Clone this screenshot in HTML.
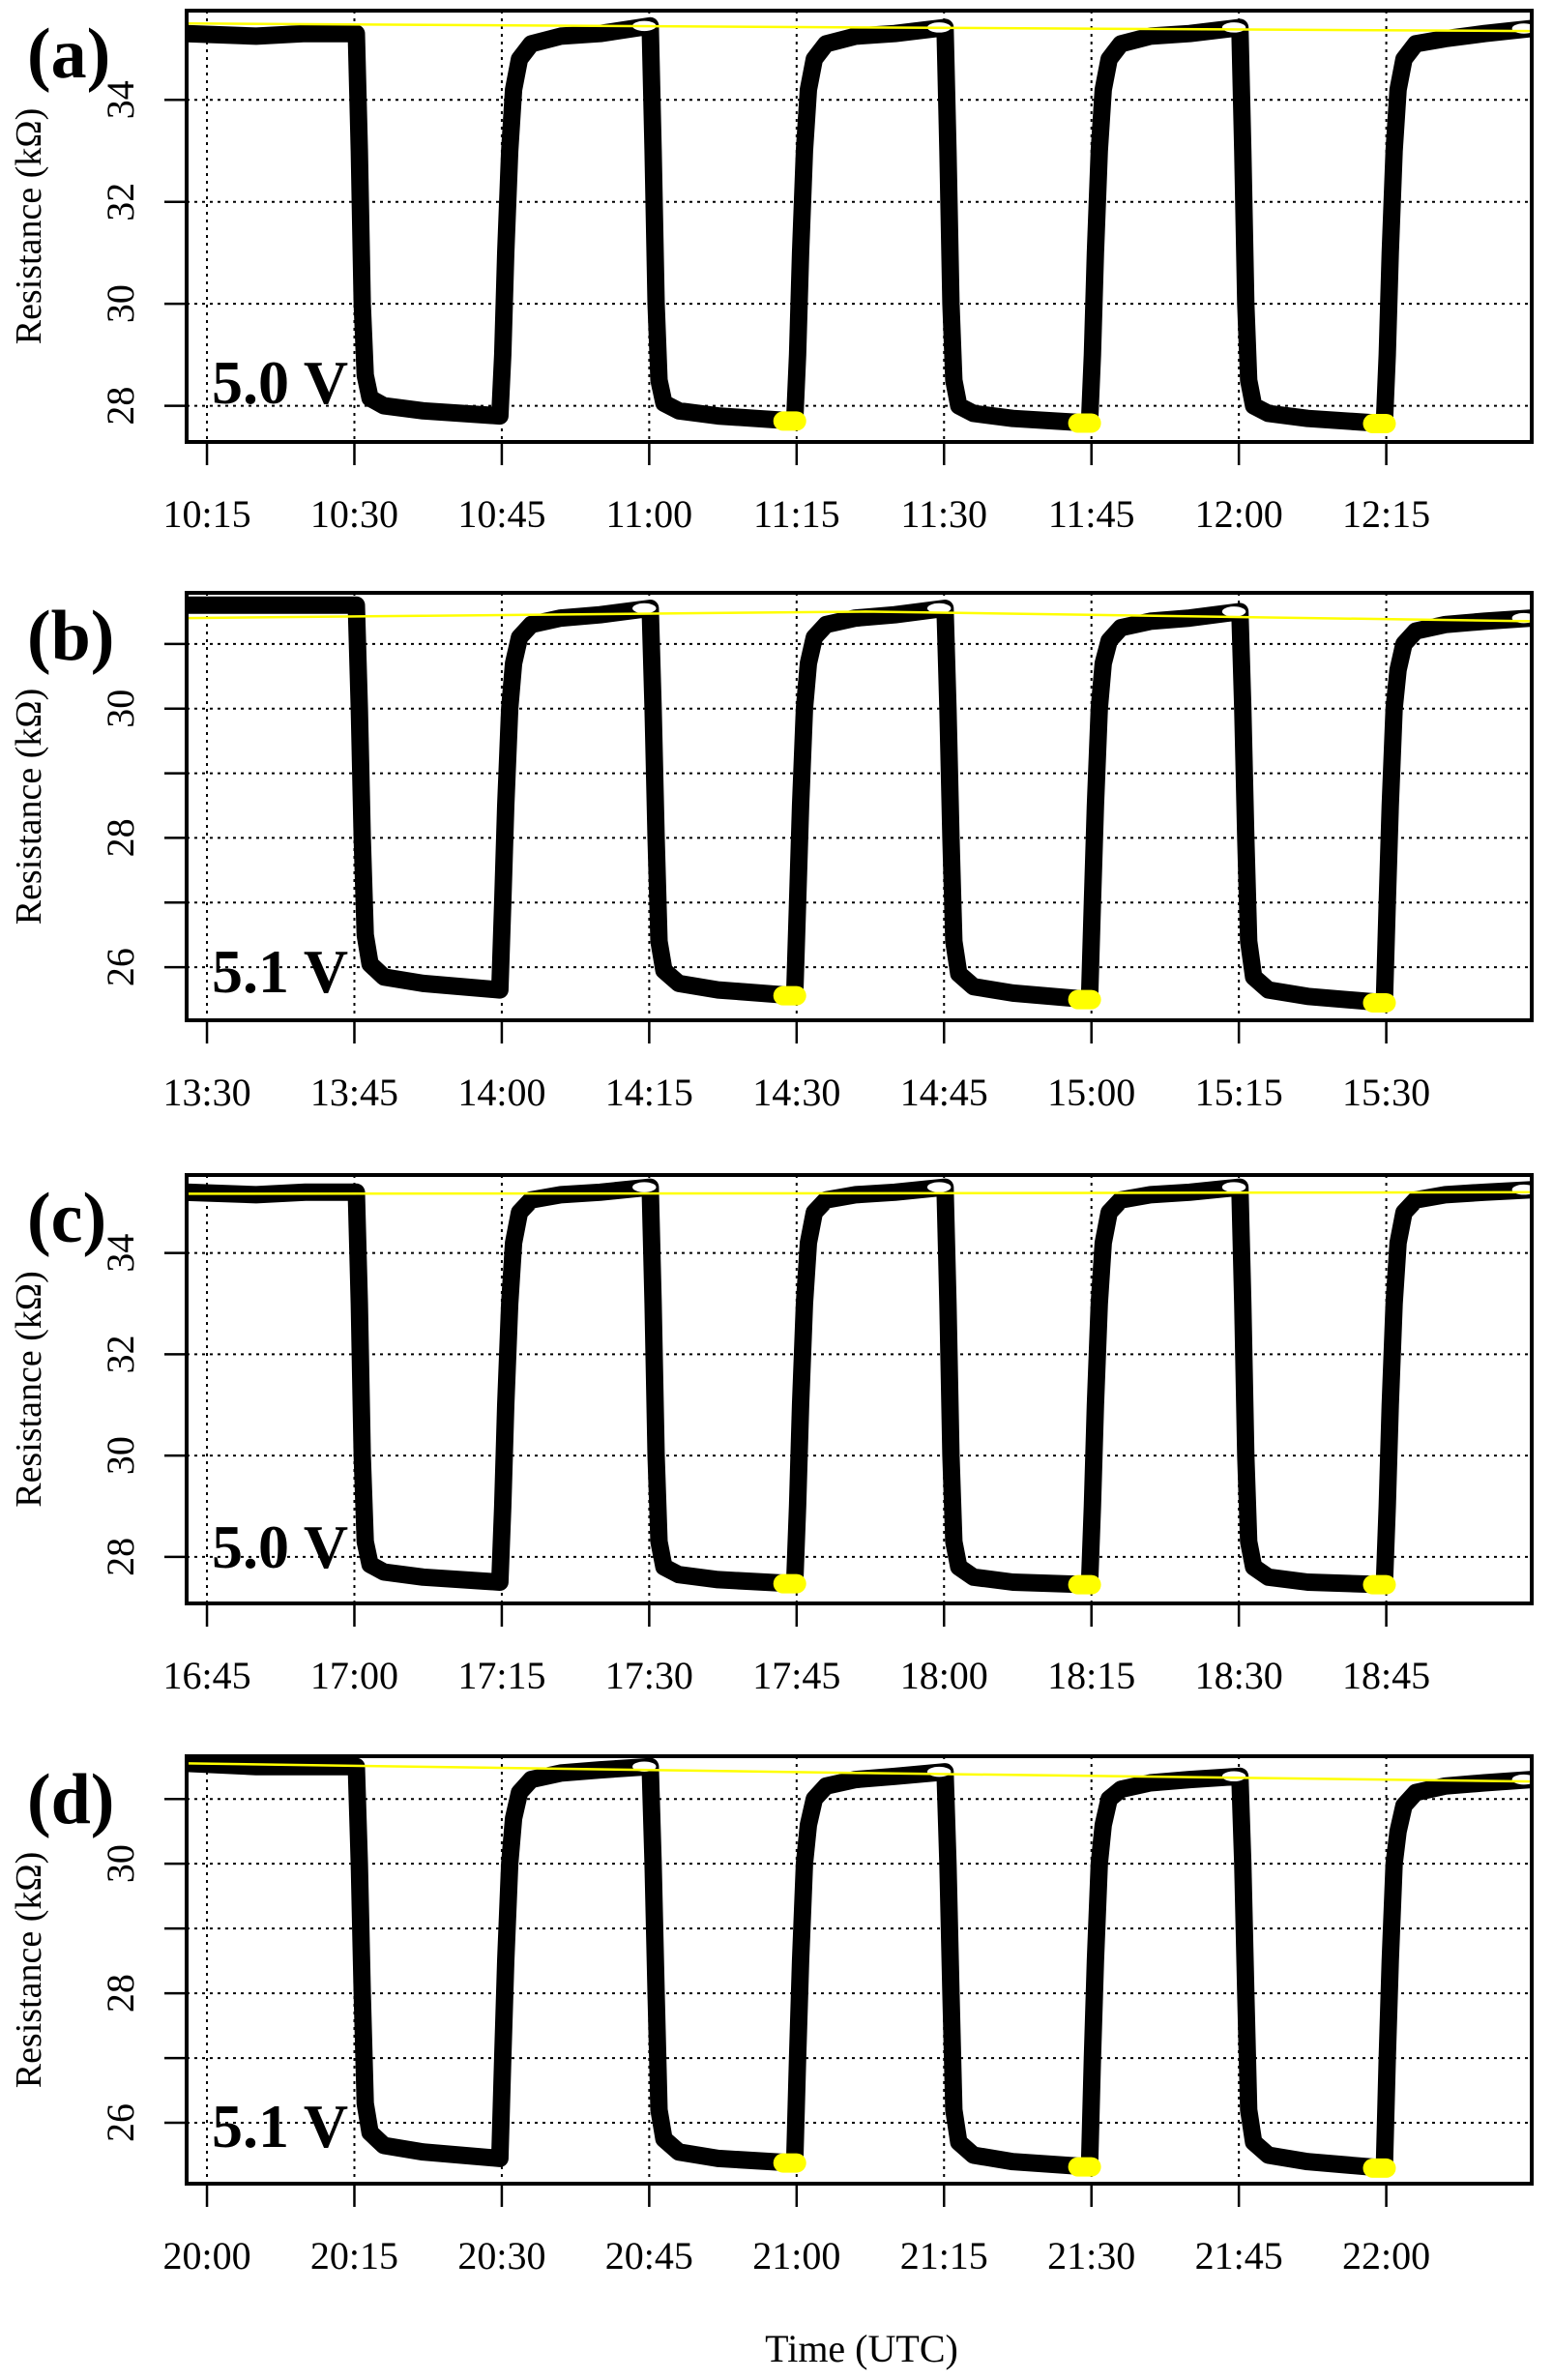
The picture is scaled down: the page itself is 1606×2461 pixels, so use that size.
<!DOCTYPE html>
<html><head><meta charset="utf-8"><style>
html,body{margin:0;padding:0;background:#fff}
svg{display:block}
text{font-family:"Liberation Serif","Times New Roman",serif;fill:#000}
</style></head><body>
<svg id="fig" width="1606" height="2461" viewBox="0 0 1606 2461" xmlns="http://www.w3.org/2000/svg">
<text x="891" y="2442" font-size="40" text-anchor="middle">Time (UTC)</text>
</svg>
<script>
// shared sample times (minutes after first labelled tick)
const sampleTimes = [-2.1,5,10,15.2,15.5,15.8,16.1,16.6,18,22,29.8,
30.1,30.4,30.8,31.2,31.8,33,36,40,45.1,
45.4,45.7,46.0,46.5,48,52,59.8,
60.1,60.4,60.8,61.2,61.8,63,66,70,75.1,
75.4,75.7,76.0,76.5,78,82,89.8,
90.1,90.4,90.8,91.2,91.8,93,96,100,105.1,
105.4,105.7,106.0,106.5,108,112,119.8,
120.1,120.4,120.8,121.2,121.8,123,126,130,134.8];
const valuesA = [35.3,35.25,35.3,35.3,33,30,28.6,28.15,28.0,27.9,27.8,
29,31,33,34.2,34.8,35.1,35.25,35.3,35.45,
33,30,28.5,28.05,27.9,27.8,27.7,
29,31,33,34.2,34.8,35.1,35.25,35.3,35.42,
33,30,28.5,28.0,27.85,27.75,27.66,
29,31,33,34.2,34.8,35.1,35.25,35.3,35.42,
33,30,28.5,28.0,27.85,27.75,27.65,
29,31,33,34.2,34.8,35.1,35.2,35.3,35.4];
const valuesB = [31.6,31.6,31.6,31.6,30,28,26.5,26.05,25.85,25.75,25.65,
27,28.5,30,30.7,31.1,31.3,31.4,31.45,31.55,
30,28,26.4,25.95,25.75,25.65,25.56,
27,28.5,30,30.7,31.1,31.3,31.4,31.45,31.55,
30,28,26.4,25.9,25.7,25.6,25.5,
27,28.5,30,30.7,31.05,31.25,31.35,31.4,31.5,
30,28,26.4,25.85,25.65,25.55,25.45,
27,28.5,30,30.6,31.0,31.2,31.3,31.35,31.4];
const valuesC = [35.2,35.15,35.2,35.2,33,30,28.3,27.85,27.7,27.6,27.5,
29,31,33,34.2,34.8,35.05,35.15,35.2,35.3,
33,30,28.3,27.8,27.65,27.55,27.47,
29,31,33,34.2,34.8,35.05,35.15,35.2,35.3,
33,30,28.3,27.8,27.6,27.5,27.45,
29,31,33,34.2,34.8,35.05,35.15,35.2,35.3,
33,30,28.3,27.8,27.6,27.5,27.45,
29,31,33,34.2,34.8,35.05,35.15,35.2,35.25];
const valuesD = [31.55,31.5,31.5,31.5,30,28,26.3,25.85,25.65,25.55,25.45,
27,28.5,30,30.7,31.1,31.3,31.4,31.45,31.5,
30,28,26.2,25.75,25.55,25.45,25.38,
27,28.5,30,30.6,31.0,31.2,31.3,31.35,31.42,
30,28,26.2,25.7,25.5,25.4,25.32,
27,28.5,30,30.6,31.0,31.15,31.25,31.3,31.35,
30,28,26.2,25.7,25.5,25.4,25.3,
27,28.5,30,30.5,30.9,31.1,31.2,31.25,31.3];
const fitTimes = [-2.1,67,134.8];
const fitA = [35.5,35.42,35.35];
const fitB = [31.4,31.5,31.35];
const fitC = [35.17,35.18,35.2];
const fitD = [31.55,31.4,31.27];
const yellowTimes = [59.4,89.4,119.4];
const yellowA = [27.7,27.66,27.65];
const yellowB = [25.56,25.5,25.45];
const yellowC = [27.47,27.45,27.45];
const yellowD = [25.38,25.32,25.3];
const whiteTimes = [44.5,74.5,104.5,134.0];
const whiteA = [35.45,35.42,35.42,35.4];
const whiteB = [31.55,31.55,31.5,31.4];
const whiteC = [35.3,35.3,35.3,35.25];
const whiteD = [31.5,31.42,31.35,31.3];
const tickMinutes = [0,15,30,45,60,75,90,105,120];
const labelsA = ["10:15","10:30","10:45","11:00","11:15","11:30","11:45","12:00","12:15"];
const labelsB = ["13:30","13:45","14:00","14:15","14:30","14:45","15:00","15:15","15:30"];
const labelsC = ["16:45","17:00","17:15","17:30","17:45","18:00","18:15","18:30","18:45"];
const labelsD = ["20:00","20:15","20:30","20:45","21:00","21:15","21:30","21:45","22:00"];
const yTicksAC = [28,30,32,34];
const yTicksBD = [26,27,28,29,30,31];

const NS = "http://www.w3.org/2000/svg";
const svg = document.getElementById('fig');
const L = 193, R = 1584, T0 = -2.07, T1 = 134.8;
function xs(t){ return L + (t - T0) / (T1 - T0) * (R - L); }
function mk(tag, attrs, parent){ const e = document.createElementNS(NS, tag); for (const k in attrs) e.setAttribute(k, attrs[k]); (parent||svg).appendChild(e); return e; }

const panels = [
 {id:'a', top:11, bot:457, ymin:27.29, ymax:35.75, vals:valuesA, fit:fitA, yel:yellowA, wh:whiteA, labels:labelsA, yt:yTicksAC, volt:"5.0 V", voff:406},
 {id:'b', top:613, bot:1055, ymin:25.18, ymax:31.79, vals:valuesB, fit:fitB, yel:yellowB, wh:whiteB, labels:labelsB, yt:yTicksBD, volt:"5.1 V", voff:413},
 {id:'c', top:1215, bot:1658, ymin:27.08, ymax:35.54, vals:valuesC, fit:fitC, yel:yellowC, wh:whiteC, labels:labelsC, yt:yTicksAC, volt:"5.0 V", voff:406},
 {id:'d', top:1816, bot:2258, ymin:25.06, ymax:31.66, vals:valuesD, fit:fitD, yel:yellowD, wh:whiteD, labels:labelsD, yt:yTicksBD, volt:"5.1 V", voff:404}
];

panels.forEach(p => {
  const ys = v => p.bot - (v - p.ymin) / (p.ymax - p.ymin) * (p.bot - p.top);
  const g = mk('g', {});
  
  
  const cid = 'clip-' + p.id;
  const cp = mk('clipPath', {id: cid}, g);
  mk('rect', {x:L, y:p.top, width:R-L, height:p.bot-p.top}, cp);
  tickMinutes.forEach(t => {
    const ln = mk('line', {x1:xs(t), x2:xs(t), y1:p.top, y2:p.bot, stroke:'#000', 'stroke-width':2, 'stroke-dasharray':'3,5'}, g);
    
    
  });
  p.yt.forEach(v => {
    const ln = mk('line', {x1:L, x2:R, y1:ys(v), y2:ys(v), stroke:'#000', 'stroke-width':2, 'stroke-dasharray':'3,5'}, g);
    
    
  });
  const dg = mk('g', {'clip-path':'url(#' + cid + ')'}, g);
  const pts = sampleTimes.map((t,i) => xs(t).toFixed(1) + ',' + ys(p.vals[i]).toFixed(1)).join(' ');
  const series = mk('polyline', {points:pts, fill:'none', stroke:'#000', 'stroke-width':18, 'stroke-linejoin':'round', 'stroke-linecap':'round'}, dg);
  
  
  whiteTimes.forEach((t,i) => {
    const e = mk('ellipse', {cx:xs(t), cy:ys(p.wh[i]), rx:13, ry:6, fill:'#fff', stroke:'#000', 'stroke-width':1.5}, dg);
    
    
  });
  const fp = fitTimes.map((t,i) => xs(t).toFixed(1) + ',' + ys(p.fit[i]).toFixed(1)).join(' ');
  const fl = mk('polyline', {points:fp, fill:'none', stroke:'#ffff00', 'stroke-width':2.5}, dg);
  
  
  yellowTimes.forEach((t,i) => {
    const e = mk('rect', {x:xs(t)-18, y:ys(p.yel[i])-10, width:34, height:20, rx:10, fill:'#ffff00'}, dg);
    
    
  });
  const box = mk('rect', {x:L, y:p.top, width:R-L, height:p.bot-p.top, fill:'none', stroke:'#000', 'stroke-width':4}, g);
  
  
  tickMinutes.forEach((t,i) => {
    const tk = mk('line', {x1:xs(t), x2:xs(t), y1:p.bot, y2:p.bot+24, stroke:'#000', 'stroke-width':2.5}, g);
    
    
    const tx = mk('text', {x:xs(t), y:p.bot+88, 'font-size':40, 'text-anchor':'middle'}, g);
    tx.textContent = p.labels[i];
    
    
  });
  p.yt.forEach(v => {
    const tk = mk('line', {x1:L-23, x2:L, y1:ys(v), y2:ys(v), stroke:'#000', 'stroke-width':2.5}, g);
    
    
    if (v % 2 === 0) {
      const y = ys(v);
      const tx = mk('text', {x:138, y:y, 'font-size':40, 'text-anchor':'middle', transform:'rotate(-90 138 ' + y + ')'}, g);
      tx.textContent = String(v);
      
      
    }
  });
  const cy = (p.top + p.bot) / 2;
  const yt = mk('text', {x:42, y:cy, 'font-size':38, 'text-anchor':'middle', transform:'rotate(-90 42 ' + cy + ')'}, g);
  yt.textContent = 'Resistance (kΩ)';
  
  
  const pl = mk('text', {x:28, y:p.top+69, 'font-size':74, 'font-weight':'bold'}, g);
  pl.textContent = '(' + p.id + ')';
  
  
  const vt = mk('text', {x:219, y:p.top+p.voff, 'font-size':64, 'font-weight':'bold'}, g);
  vt.textContent = p.volt;
  
  
});
</script>
</body></html>
